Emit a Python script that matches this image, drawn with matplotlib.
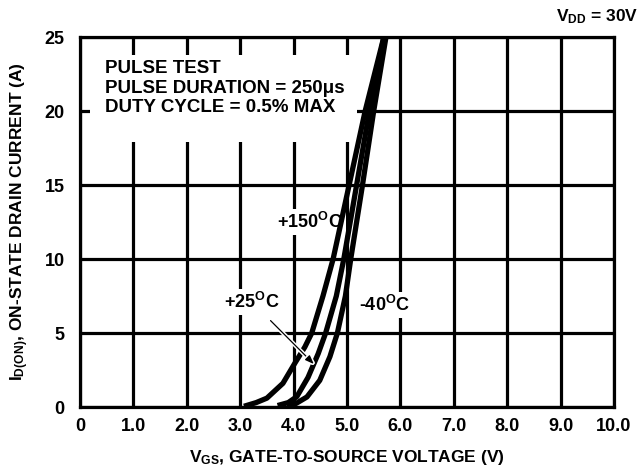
import matplotlib
matplotlib.use("Agg")
import matplotlib.pyplot as plt
import matplotlib.patheffects as pe
from matplotlib.patches import Rectangle

# donnees (VGS en V, ID en A)
vgs_150 = [3.07, 3.30, 3.50, 3.80, 4.03, 4.21, 4.34, 4.55, 4.74, 5.04, 5.34, 5.69, 5.72]
id_150 = [0.05, 0.30, 0.60, 1.6, 3.0, 4.05, 5.0, 7.5, 10.0, 15.0, 20.0, 25.0, 25.5]

vgs_25 = [3.70, 3.90, 4.06, 4.27, 4.46, 4.60, 4.80, 4.94, 5.18, 5.42, 5.69, 5.72]
id_25 = [0.10, 0.30, 0.70, 2.0, 3.6, 5.0, 7.5, 10.0, 15.0, 20.0, 25.0, 25.5]

vgs_m40 = [3.88, 4.05, 4.25, 4.49, 4.68, 4.82, 4.97, 5.07, 5.29, 5.50, 5.73, 5.76]
id_m40 = [0.05, 0.25, 0.68, 1.8, 3.4, 5.0, 7.5, 10.0, 15.0, 20.0, 25.0, 25.5]

xticks = [0, 1, 2, 3, 4, 5, 6, 7, 8, 9, 10]
xticklabels = ["0", "1.0", "2.0", "3.0", "4.0", "5.0", "6.0", "7.0", "8.0", "9.0", "10.0"]
yticks = [0, 5, 10, 15, 20, 25]

plt.rcParams["font.family"] = "Liberation Sans"
plt.rcParams["font.weight"] = "bold"
plt.rcParams["axes.labelweight"] = "bold"
plt.rcParams["mathtext.fontset"] = "custom"
plt.rcParams["mathtext.rm"] = "Liberation Sans:bold"
plt.rcParams["mathtext.it"] = "Liberation Sans:bold"
plt.rcParams["mathtext.bf"] = "Liberation Sans:bold"
plt.rcParams["mathtext.default"] = "rm"

fig = plt.figure(figsize=(6.42, 4.68), dpi=100)
ax = fig.add_axes([0.1246, 0.1303, 0.8318, 0.7906])

ax.set_xlim(0, 10)
ax.set_ylim(0, 25)
ax.set_xticks(xticks)
ax.set_xticklabels(xticklabels)
ax.set_yticks(yticks)
ax.tick_params(length=0, labelsize=13, pad=8)
ax.tick_params(axis="y", pad=11)
ax.grid(True, color="black", lw=2.3)
ax.set_axisbelow(True)
for s in ax.spines.values():
    s.set_linewidth(2.3)

# cadre blanc derriere le texte
ax.add_patch(Rectangle((0.19, 17.9), 5.0, 5.9, facecolor="white", edgecolor="none", zorder=1.5))
ax.text(0.47, 21.55, "PULSE TEST\nPULSE DURATION = 250\u03bcs\nDUTY CYCLE = 0.5% MAX",
        fontsize=13.5, va="center", ha="left", linespacing=1.2, zorder=2)

# courbes
for x, y in [(vgs_150, id_150), (vgs_25, id_25), (vgs_m40, id_m40)]:
    ax.plot(x, y, color="black", lw=3.8, solid_capstyle="butt", solid_joinstyle="round", zorder=3)

box = dict(facecolor="white", edgecolor="none", pad=2)
ax.text(4.31, 12.5, r"+150$^{O}$C", fontsize=13, ha="center", va="center", bbox=box, zorder=2)
ax.text(5.71, 6.9, r"-40$^{O}$C", fontsize=13, ha="center", va="center", bbox=box, zorder=2)
ax.annotate(r"+25$^{O}$C", xy=(4.38, 2.9), xytext=(3.22, 7.1), fontsize=13,
            ha="center", va="center", bbox=box, zorder=4,
            arrowprops=dict(arrowstyle="-|>,head_length=0.4,head_width=0.15", color="black", lw=0.9,
                            shrinkA=6, shrinkB=0,
                            path_effects=[pe.Stroke(linewidth=3, foreground="white"), pe.Normal()]))

ax.set_xlabel(r"V$_{GS}$, GATE-TO-SOURCE VOLTAGE (V)", fontsize=12.5, labelpad=9)
ax.set_ylabel(r"I$_{D(ON)}$, ON-STATE DRAIN CURRENT (A)", fontsize=12.5, labelpad=10)
fig.text(0.93, 0.965, r"V$_{DD}$ = 30V", fontsize=12.5, ha="center", va="center")

plt.savefig("out.png", dpi=100)
